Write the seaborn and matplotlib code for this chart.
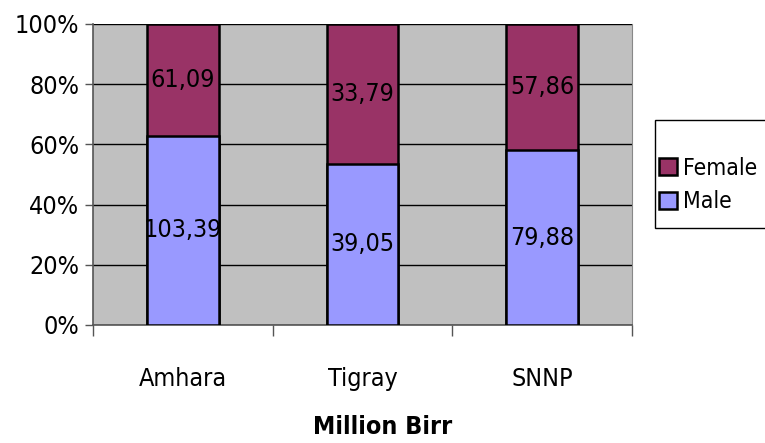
import pandas as pd
import matplotlib.pyplot as plt
import seaborn as sns
from matplotlib.patches import Rectangle

regions = ['Amhara', 'Tigray', 'SNNP']
male = [103.39, 39.05, 79.88]
female = [61.09, 33.79, 57.86]

df = pd.DataFrame({'region': regions, 'male': male, 'female': female})
df['total'] = df['male'] + df['female']
df['male_pct'] = df['male'] / df['total'] * 100
df['full'] = 100.0

sns.set_style('white')
plt.rcParams['font.family'] = ['DejaVu Sans']
plt.rcParams['font.stretch'] = 'condensed'
plt.rcParams['text.color'] = 'black'
plt.rcParams['xtick.color'] = 'black'
plt.rcParams['ytick.color'] = 'black'

male_color = '#9999FF'
female_color = '#993366'

fig = plt.figure(figsize=(7.65, 4.43), dpi=100)
ax = fig.add_axes([0.1216, 0.2664, 0.7046, 0.6796])
ax.set_facecolor('#C0C0C0')

# stack: full height in female colour, male part drawn on top
sns.barplot(data=df, x='region', y='full', color=female_color, width=0.4,
            edgecolor='black', linewidth=1.8, saturation=1, ax=ax, label='Female', zorder=3)
sns.barplot(data=df, x='region', y='male_pct', color=male_color, width=0.4,
            edgecolor='black', linewidth=1.8, saturation=1, ax=ax, label='Male', zorder=4)
handles, labels = ax.get_legend_handles_labels()
if ax.legend_ is not None:
    ax.legend_.remove()

for i, row in df.iterrows():
    ax.text(i, row['male_pct'] / 2, f"{row['male']:.2f}".replace('.', ','),
            ha='center', va='center', fontsize=18, zorder=5)
    ax.text(i, row['male_pct'] + (100 - row['male_pct']) / 2, f"{row['female']:.2f}".replace('.', ','),
            ha='center', va='center', fontsize=18, zorder=5)

ax.set_xlim(-0.5, 2.5)
ax.set_ylim(0, 100)
ax.set_yticks([0, 20, 40, 60, 80, 100])
ax.set_yticklabels([f'{v}%' for v in [0, 20, 40, 60, 80, 100]], fontsize=18)
ax.yaxis.grid(True, color='black', linewidth=1)
ax.set_axisbelow(True)

ax.set_xticks([-0.5, 0.5, 1.5, 2.5])
ax.set_xticklabels([])
ax.tick_params(axis='x', direction='out', length=8, width=1, color='#555555', bottom=True)
ax.tick_params(axis='y', direction='out', length=6, width=1, color='#555555', left=True, pad=4)
for i, r in enumerate(regions):
    ax.text(i, -14, r, ha='center', va='top', fontsize=18)

ax.set_xlabel('')
ax.set_ylabel('')
fig.text(0.5, 0.01, 'Million Birr', ha='center', va='bottom', fontsize=18, fontweight='bold')

for side in ['left', 'bottom']:
    ax.spines[side].set_color('#555555')
    ax.spines[side].set_linewidth(1.2)
ax.spines['right'].set_color('#888888')
ax.spines['top'].set_visible(False)

# legend box runs off the right edge like the original
fig.patches.append(Rectangle((655 / 765, 1 - 228 / 443), 0.2, 108 / 443,
                             transform=fig.transFigure, facecolor='white',
                             edgecolor='black', linewidth=1))
leg = fig.legend(handles, labels, loc='center left', bbox_to_anchor=(0.862, 1 - 185 / 443),
                 fontsize=16.5, frameon=False,
                 handlelength=0.75, handleheight=0.75, handletextpad=0.3,
                 labelspacing=0.45, borderpad=0, borderaxespad=0)

fig.savefig('out.png', dpi=100)
